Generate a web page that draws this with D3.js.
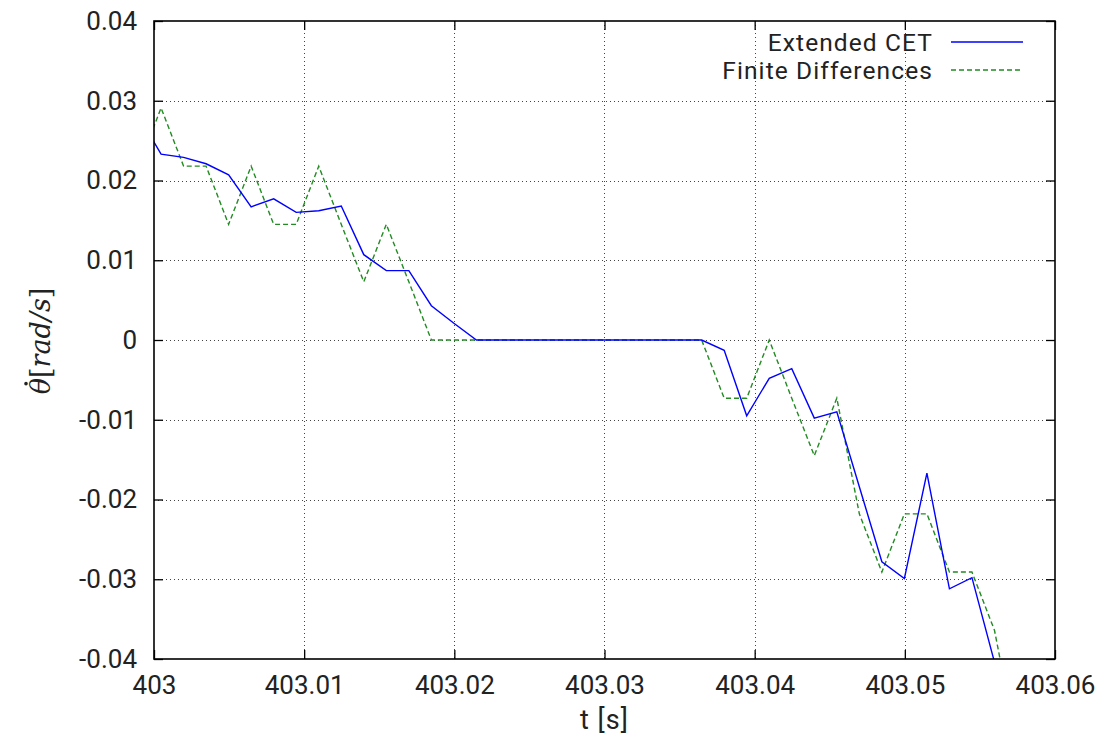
<!DOCTYPE html>
<html>
<head>
<meta charset="utf-8">
<script src="https://cdn.jsdelivr.net/npm/d3@7"></script>
<style>
  html, body { margin: 0; padding: 0; background: #fff; }
  svg { display: block; }
  text { font-family: Roboto, "Liberation Sans", sans-serif; fill: #222; }
</style>
</head>
<body>
<svg id="chart" width="1105" height="743"></svg>
<script>
// ---- data ----
const times = [
  402.99897, 403.00047, 403.00197, 403.00347, 403.00497, 403.00647, 403.00797, 403.00947,
  403.01097, 403.01247, 403.01397, 403.01547, 403.01697, 403.01847, 403.01997, 403.02147,
  403.02297, 403.02447, 403.02597, 403.02747, 403.02897, 403.03047, 403.03197, 403.03347,
  403.03497, 403.03647, 403.03797, 403.03947, 403.04097, 403.04247, 403.04397, 403.04547,
  403.04697, 403.04847, 403.04997, 403.05147, 403.05297, 403.05447, 403.05597, 403.05747
];
const extendedCET = [
  0.0281, 0.0233, 0.0229, 0.0221, 0.0207, 0.0167, 0.0177, 0.0160,
  0.0162, 0.0168, 0.0107, 0.0087, 0.0087, 0.0043, 0.0021, 0,
  0, 0, 0, 0, 0, 0, 0, 0,
  0, 0, -0.0013, -0.0095, -0.0048, -0.0036, -0.0098, -0.0090,
  -0.0184, -0.0278, -0.0299, -0.0167, -0.0312, -0.0298, -0.0404, -0.0480
];
const finiteDifferences = [
  0.0218, 0.0291, 0.0218, 0.0218, 0.0145, 0.0218, 0.0145, 0.0145,
  0.0218, 0.0145, 0.0073, 0.0145, 0.0073, 0, 0, 0,
  0, 0, 0, 0, 0, 0, 0, 0,
  0, 0, -0.0073, -0.0073, 0, -0.0073, -0.0145, -0.0073,
  -0.0218, -0.0291, -0.0218, -0.0218, -0.0291, -0.0291, -0.0364, -0.0509
];
const xTicks = [403, 403.01, 403.02, 403.03, 403.04, 403.05, 403.06];
const xTickLabels = ["403", "403.01", "403.02", "403.03", "403.04", "403.05", "403.06"];
const yTicks = [-0.04, -0.03, -0.02, -0.01, 0, 0.01, 0.02, 0.03, 0.04];
const yTickLabels = ["-0.04", "-0.03", "-0.02", "-0.01", "0", "0.01", "0.02", "0.03", "0.04"];
const seriesNames = ["Extended CET", "Finite Differences"];
const seriesColors = ["#0000ff", "#228b22"];

// ---- layout ----
const L = 154, R = 1055, T = 21, B = 659;
const svg = d3.select("#chart");
const x = d3.scaleLinear().domain([403, 403.06]).range([L, R]);
const y = d3.scaleLinear().domain([-0.04, 0.04]).range([B, T]);

svg.append("defs").append("clipPath").attr("id", "plotclip")
  .append("rect").attr("x", L).attr("y", T).attr("width", R - L).attr("height", B - T);

// grid
const grid = svg.append("g").attr("stroke", "#444").attr("stroke-width", 1)
  .attr("stroke-dasharray", "1,3").attr("shape-rendering", "crispEdges");
grid.selectAll("line.gx").data(xTicks.slice(1, -1)).join("line")
  .attr("x1", d => Math.round(x(d)) + 0.5).attr("x2", d => Math.round(x(d)) + 0.5)
  .attr("y1", T).attr("y2", B);
grid.selectAll("line.gy").data(yTicks.slice(1, -1)).join("line")
  .attr("y1", d => Math.round(y(d)) + 0.5).attr("y2", d => Math.round(y(d)) + 0.5)
  .attr("x1", L).attr("x2", R);

// axes with inward ticks (bottom/left labelled, top/right mirrored)
const tickLen = 9;
const fmtX = d => xTickLabels[xTicks.indexOf(d)];
const fmtY = d => yTickLabels[yTicks.indexOf(d)];

const gx = svg.append("g").attr("transform", `translate(0,${B})`)
  .call(d3.axisBottom(x).tickValues(xTicks).tickFormat(fmtX).tickSizeInner(-tickLen).tickSizeOuter(0).tickPadding(17));
const gy = svg.append("g").attr("transform", `translate(${L},0)`)
  .call(d3.axisLeft(y).tickValues(yTicks).tickFormat(fmtY).tickSizeInner(-tickLen).tickSizeOuter(0).tickPadding(17));
const gxt = svg.append("g").attr("transform", `translate(0,${T})`)
  .call(d3.axisTop(x).tickValues(xTicks).tickFormat("").tickSizeInner(-tickLen).tickSizeOuter(0));
const gyr = svg.append("g").attr("transform", `translate(${R},0)`)
  .call(d3.axisRight(y).tickValues(yTicks).tickFormat("").tickSizeInner(-tickLen).tickSizeOuter(0));
[gx, gy, gxt, gyr].forEach(g => {
  g.select(".domain").remove();
  g.selectAll(".tick line").attr("stroke", "#000").attr("stroke-width", 1.3);
  g.selectAll("text").attr("font-size", 26).attr("fill", "#222")
    .attr("font-family", "Roboto, 'Liberation Sans', sans-serif");
});
gx.selectAll("text").attr("dy", "0.71em");

// lines
const plot = svg.append("g").attr("clip-path", "url(#plotclip)");
const lineGen = vals => d3.line().x((d, i) => x(times[i])).y(d => y(d))(vals);
plot.append("path").attr("d", lineGen(finiteDifferences))
  .attr("fill", "none").attr("stroke", seriesColors[1]).attr("stroke-width", 1.4)
  .attr("stroke-dasharray", "5,3");
plot.append("path").attr("d", lineGen(extendedCET))
  .attr("fill", "none").attr("stroke", seriesColors[0]).attr("stroke-width", 1.4);

// border
svg.append("rect").attr("x", L).attr("y", T).attr("width", R - L).attr("height", B - T)
  .attr("fill", "none").attr("stroke", "#000").attr("stroke-width", 1.6);

// legend
const legend = svg.append("g");
seriesNames.forEach((name, i) => {
  const ly = 42 + i * 28;
  legend.append("text").attr("x", 933).attr("y", ly).attr("dy", "0.35em")
    .attr("text-anchor", "end").attr("font-size", 24.5).attr("letter-spacing", 1.1).text(name);
  legend.append("line").attr("x1", 951).attr("x2", 1023).attr("y1", ly).attr("y2", ly)
    .attr("stroke", seriesColors[i]).attr("stroke-width", 1.4)
    .attr("stroke-dasharray", i === 1 ? "5,3" : null);
});

// axis titles
svg.append("text").attr("x", (L + R) / 2).attr("y", 729).attr("text-anchor", "middle")
  .attr("font-size", 27).attr("letter-spacing", 1).text("t [s]");

const ylg = svg.append("g").attr("transform", "translate(50,341) rotate(-90)");
const yl = ylg.append("text").attr("x", 0).attr("y", 0)
  .attr("text-anchor", "middle").attr("font-size", 27)
  .style("font-family", "'DejaVu Serif', 'Liberation Serif', serif");
yl.append("tspan").attr("font-style", "italic").text("θ");
yl.append("tspan").text("[");
yl.append("tspan").attr("font-style", "italic").text("rad/s");
yl.append("tspan").text("]");
// dot accent over theta
const tn = yl.node();
const s0 = tn.getStartPositionOfChar(0), e0 = tn.getEndPositionOfChar(0);
ylg.append("circle").attr("cx", (s0.x + e0.x) / 2 + 2.5).attr("cy", -24).attr("r", 1.8).attr("fill", "#222");
</script>
</body>
</html>
